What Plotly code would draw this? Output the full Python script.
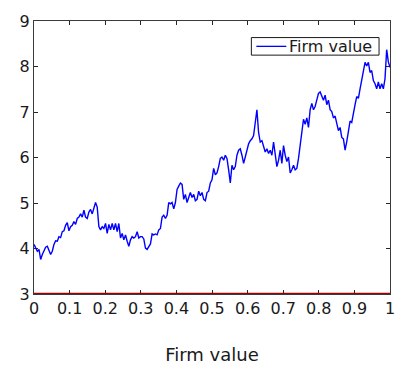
import numpy as np
import plotly.graph_objects as go

# Simulated firm value path, sampled on an even time grid over [0, 1]
firm_value = [
    4.09, 4.01, 3.94, 3.98, 3.76, 3.87, 3.94, 4.03, 4.05, 3.94,
    3.87, 3.94, 4.09, 4.17, 4.16, 4.26, 4.24, 4.37, 4.39, 4.51,
    4.57, 4.39, 4.48, 4.51, 4.59, 4.53, 4.66, 4.69, 4.76, 4.69,
    4.84, 4.69, 4.66, 4.80, 4.86, 4.76, 4.89, 5.01, 4.91, 4.48,
    4.41, 4.48, 4.44, 4.55, 4.33, 4.53, 4.41, 4.55, 4.41, 4.55,
    4.37, 4.55, 4.23, 4.33, 4.19, 4.30, 4.16, 4.05, 4.19, 4.26,
    4.23, 4.26, 4.37, 4.23, 4.26, 4.26, 4.21, 4.01, 3.98, 4.03,
    4.10, 4.32, 4.30, 4.32, 4.30, 4.41, 4.44, 4.69, 4.73, 4.66,
    4.73, 5.01, 4.98, 5.01, 4.87, 5.01, 5.30, 5.37, 5.44, 5.41,
    5.08, 5.19, 5.01, 5.12, 5.23, 5.12, 5.19, 5.05, 5.08, 5.26,
    5.16, 5.23, 5.08, 5.05, 5.23, 5.26, 5.44, 5.51, 5.76, 5.62,
    5.66, 5.80, 5.98, 6.01, 5.94, 6.05, 5.98, 5.73, 5.44, 5.83,
    5.73, 5.80, 6.05, 6.16, 6.19, 6.05, 5.87, 6.01, 6.15, 6.30,
    6.37, 6.41, 6.48, 6.80, 7.05, 6.55, 6.34, 6.37, 6.23, 6.12,
    6.19, 6.09, 6.16, 6.05, 6.34, 6.12, 5.80, 5.94, 6.16, 5.87,
    6.26, 6.05, 5.91, 6.01, 5.66, 5.73, 5.83, 5.73, 5.76, 5.98,
    6.30, 6.59, 6.84, 6.73, 6.87, 6.66, 7.05, 7.19, 7.05, 7.12,
    7.26, 7.41, 7.44, 7.34, 7.26, 7.37, 7.16, 7.26, 7.05, 7.01,
    6.87, 6.91, 6.73, 6.59, 6.66, 6.44, 6.41, 6.16, 6.35, 6.59,
    6.80, 6.77, 7.01, 7.16, 7.34, 7.30, 7.51, 7.73, 7.87, 8.09,
    8.01, 8.09, 7.87, 7.91, 7.69, 7.62, 7.51, 7.66, 7.51, 7.62,
    7.51, 7.73, 8.37, 8.10, 7.98,
]
time_grid = np.linspace(0, 1, len(firm_value))

# Default barrier level
barrier_x = [0, 1]
barrier_y = [3, 3]

x_ticks = [0, 0.1, 0.2, 0.3, 0.4, 0.5, 0.6, 0.7, 0.8, 0.9, 1]
x_tick_labels = ["0", "0.1", "0.2", "0.3", "0.4", "0.5", "0.6", "0.7", "0.8", "0.9", "1"]
y_ticks = [3, 4, 5, 6, 7, 8, 9]
y_tick_labels = ["3", "4", "5", "6", "7", "8", "9"]

series_name = "Firm value"
x_title = "Firm value"

FONT = "DejaVu Sans, Arial, sans-serif"
INK = "#1a1a1a"
BLUE = "#0000ff"

fig = go.Figure()
fig.add_trace(go.Scatter(
    x=barrier_x, y=barrier_y, mode="lines",
    line=dict(color="#a00000", width=2.4), showlegend=False, hoverinfo="skip",
))
fig.add_trace(go.Scatter(
    x=time_grid, y=firm_value, mode="lines", name=series_name,
    line=dict(color=BLUE, width=1.4), showlegend=False,
))

axis_common = dict(
    showgrid=False, zeroline=False, showline=True, linecolor="#3a3a3a", linewidth=1,
    mirror="ticks", ticks="inside", ticklen=4, tickcolor="#262626",
    tickfont=dict(family=FONT, size=16, color=INK), layer="below traces",
)

# Boxed legend in the upper right corner of the axes
legend_box = dict(x0=0.6106, x1=0.9692, y0=0.875, y1=0.9393)
legend_mid = 0.9071
shapes = [
    dict(type="rect", xref="paper", yref="paper", **legend_box,
         line=dict(color=INK, width=1), fillcolor="white", layer="above"),
    dict(type="line", xref="paper", yref="paper", x0=0.6246, x1=0.7087,
         y0=legend_mid, y1=legend_mid, line=dict(color=BLUE, width=1.3), layer="above"),
]
annotations = [
    dict(text=series_name, xref="paper", yref="paper", x=0.7115, y=legend_mid,
         xanchor="left", yanchor="middle", showarrow=False,
         font=dict(family=FONT, size=16, color=INK)),
]

fig.update_layout(
    width=407, height=378,
    margin=dict(l=34, r=16, t=14, b=84),
    paper_bgcolor="white", plot_bgcolor="white",
    font=dict(family=FONT, size=16, color=INK),
    showlegend=False,
    shapes=shapes, annotations=annotations,
    xaxis=dict(range=[0, 1], tickvals=x_ticks, ticktext=x_tick_labels,
               title=dict(text=x_title, font=dict(family=FONT, size=18, color=INK), standoff=31),
               **axis_common),
    yaxis=dict(range=[3, 9], tickvals=y_ticks, ticktext=y_tick_labels, **axis_common),
)

fig.write_html("out.html")
